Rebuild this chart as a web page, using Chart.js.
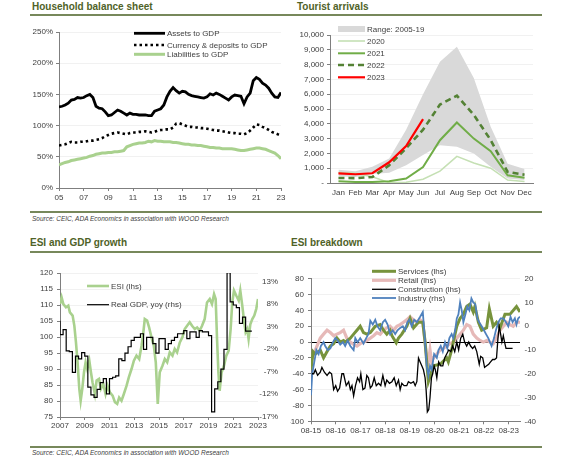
<!DOCTYPE html>
<html>
<head>
<meta charset="utf-8">
<script src="https://cdn.jsdelivr.net/npm/chart.js@4.4.0/dist/chart.umd.min.js"></script>
<style>
  html, body { margin: 0; padding: 0; background: #fff; }
  #page { position: relative; width: 580px; height: 460px; overflow: hidden; font-family: "Liberation Sans", Arial, sans-serif; }
  .title { position: absolute; font-weight: bold; font-size: 10px; line-height: 12px; color: #4f6228; white-space: nowrap; }
  .rule { position: absolute; height: 2px; background: #77885b; }
  .source { position: absolute; font-style: italic; font-size: 6.5px; line-height: 8px; color: #404040; white-space: nowrap; }
  canvas { position: absolute; }
</style>
</head>
<body>
<div id="page">
  <div class="title" style="left:32px; top:1px;">Household balance sheet</div>
  <div class="title" style="left:297px; top:1px;">Tourist arrivals</div>
  <div class="rule" style="left:30px; top:14px; width:512px;"></div>
  <div class="rule" style="left:30px; top:211px; width:512px;"></div>
  <div class="source" style="left:32px; top:215px;">Source: CEIC, ADA Economics in association with WOOD Research</div>

  <div class="title" style="left:30px; top:237px;">ESI and GDP growth</div>
  <div class="title" style="left:291px; top:237px;">ESI breakdown</div>
  <div class="rule" style="left:30px; top:251px; width:512px;"></div>
  <div class="rule" style="left:30px; top:446px; width:512px;"></div>
  <div class="source" style="left:32px; top:449px;">Source: CEIC, ADA Economics in association with WOOD Research</div>

  <canvas id="c1" width="290" height="190" style="left:0px; top:20px;"></canvas>
  <canvas id="c2" width="260" height="190" style="left:290px; top:20px;"></canvas>
  <canvas id="c3" width="290" height="180" style="left:0px; top:258px;"></canvas>
  <canvas id="c4" width="260" height="180" style="left:290px; top:258px;"></canvas>
</div>

<script>
// ---- Household balance sheet (% of GDP, quarterly from 2005) ----
const hhStart = 2005;
const assets = [130,131,133,136, 141,142,145,144, 145,148,150,145, 131,128,127,122, 116,117,121,125,
  123,120,117,120, 118,118,117,117, 117,116,116,123, 125,127,133,146, 155,161,156,152, 155,154,150,148,
  147,146,145,144, 146,151,149,152, 150,147,144,141, 146,149,148,147, 135,146,152,172, 177,174,168,165,
  160,152,146,145, 153];
const deposits = [68,69,70,72, 74,73,73,74, 74,75,76,76, 77,78,80,83, 85,87,88,89, 88,87,86,88,
  89,89,90,90, 91,90,89,90, 92,93,93,94, 94,97,103,104, 102,100,98,98, 97,97,96,96, 95,94,93,92,
  92,91,90,89, 88,88,87,87, 86,88,92,97, 102,101,98,96, 93,90,88,86, 84];
const liabilities = [37,39,41,42, 44,45,46,47, 48,49,51,52, 54,55,56,56, 57,57,58,58, 59,60,66,68,
  70,71,72,72, 73,75,74,76, 75,75,74,74, 74,73,73,72, 71,70,70,69, 69,68,68,67, 66,65,65,64,
  64,63,63,63, 63,62,61,60, 60,61,62,63, 64,64,63,62, 60,58,56,52, 47];

// ---- Tourist arrivals ----
const months = ['Jan','Feb','Mar','Apr','May','Jun','Jul','Aug','Sep','Oct','Nov','Dec'];
const rangeHigh = [900, 800, 1100, 1650, 3600, 6000, 8200, 9200, 7100, 3800, 1300, 950];
const rangeLow = [450, 400, 600, 700, 1200, 1900, 2550, 2450, 2000, 1100, 300, 200];
const y2020 = [700, 650, 420, 20, 50, 250, 800, 1800, 1350, 1000, 200, 100];
const y2021 = [110, 70, 70, 120, 300, 1080, 2890, 4090, 3000, 2150, 520, 350];
const y2022 = [340, 330, 400, 1200, 2350, 3600, 5300, 5900, 4600, 2900, 750, 560];
const y2023 = [650, 590, 660, 1400, 2500, 4320];

// ---- ESI (lhs) and real GDP yoy (rhs, quarterly from 2007) ----
const esi = [[2007.0,110.3],[2007.13,112.4],[2007.27,110.3],[2007.48,109.3],[2007.67,109.8],[2007.8,107.7],
  [2008.02,106.7],[2008.16,103.5],[2008.29,98.3],[2008.42,92.1],[2008.56,83.8],[2008.67,80.1],[2008.8,83.8],
  [2008.94,89],[2009.07,92.1],[2009.2,90],[2009.37,92.6],[2009.5,89],[2009.63,85.8],[2009.82,82.2],
  [2009.96,86.4],[2010.15,86.9],[2010.31,83.8],[2010.5,85.3],[2010.68,82.2],[2010.84,84.8],[2011.03,82.7],
  [2011.25,81.7],[2011.44,79.6],[2011.62,79.1],[2011.78,81.1],[2011.97,80.1],[2012.16,82.2],[2012.38,84.8],
  [2012.56,87.4],[2012.78,90],[2012.97,92.6],[2013.18,94.2],[2013.4,93.1],[2013.59,97.3],[2013.72,100.9],
  [2013.85,105.6],[2014.04,105.1],[2014.2,103],[2014.39,99.9],[2014.58,97.3],[2014.74,92.1],[2014.9,79.1],
  [2015.06,89],[2015.28,91],[2015.47,93.1],[2015.66,92.1],[2015.87,95.2],[2016.09,94.2],[2016.27,96.3],
  [2016.46,95.2],[2016.68,98.3],[2016.89,99.9],[2017.08,102.5],[2017.27,103.5],[2017.48,104.6],
  [2017.67,103.5],[2017.89,102.5],[2018.08,103],[2018.29,102],[2018.48,103.5],[2018.69,105.6],
  [2018.88,110.8],[2019.1,111.9],[2019.28,110.3],[2019.45,113.4],[2019.58,111.9],[2019.69,99.4],
  [2019.8,89],[2019.9,83.2],[2020.06,89],[2020.25,91],[2020.44,94.2],[2020.63,95.7],[2020.79,102.5],
  [2020.92,110.8],[2021.06,114.5],[2021.25,112.9],[2021.44,111.4],[2021.57,114.5],[2021.73,109.8],
  [2021.87,105.1],[2022.0,101.5],[2022.13,102.5],[2022.24,99.4],[2022.38,104],[2022.54,105.6],
  [2022.7,106.7],[2022.86,108.8],[2023.0,111.9]];
const gdpStart = 2007;
const gdp = [4.3, 1.2, 2.3, -2.4, -2.6, -7.2, -3.6, -4.2, -2.8, -3.6, -10.5, -12.2, -12.8, -11.0, -9.5, -8.6,
  -12.0, -8.6, -8.3, -8.0, -4.2, -4.6, -2.9, -1.5, -0.1, 0.6, 0.6, 1.4, -2.1, 0.6, 0.6, -0.8, -2.9, 0.3, 0.3,
  -2.1, -0.8, -0.1, 0.6, 1.4, 1.4, 2.1, 0.3, 1.8, 1.8, 0.6, 2.1, 1.8, 1.8, 1.0, -16.0, -10.9, -9.3, -6.5,
  -2.1, 15.0, 8.5, 7.8, 7.2, 3.7, 5.1, 2.0];
const gdpTicks = [-17, -12, -7, -2, 3, 8, 13];

// ---- ESI breakdown: months since 08-15 ----
const services = [[0,-35],[1,-12],[2.1,-15],[3.7,-12],[4.5,-10],[6.1,-20],[7.8,-12],[9.4,-5],[11,-2],[12.6,5],
  [14.2,0],[15.8,2],[16.6,0],[19.1,5],[20.7,10],[22.3,15],[23.9,20],[25.5,12],[27.1,10],[28.8,12],[31.2,20],
  [33.6,22],[35.2,15],[36.8,10],[38.4,15],[39.3,8],[41.4,-1],[42.5,5],[44.1,10],[46.5,20],[48.1,30],[49.8,18],
  [52.2,25],[54.3,25],[55.4,0],[57,-50],[59.5,-30],[62.7,-28],[65.9,-20],[66.7,-25],[68.3,-10],[69.1,0],
  [70.8,20],[72.4,30],[74,35],[75.6,45],[77.2,48],[78.8,38],[79.6,45],[81.3,25],[82.9,15],[85.3,18],
  [86.6,42],[88.5,20],[90.1,25],[91.8,18],[94.2,35],[96.6,35],[99.8,45],[101.5,38]];
const retail = [[0,-25],[1.3,-15],[2.9,-5],[4.5,5],[6.1,10],[7.8,15],[9.4,12],[11,8],[12.6,10],[14.2,12],
  [15.8,15],[17.4,5],[19.1,0],[20.7,-3],[22.3,-5],[23.9,-2],[25.5,0],[27.1,2],[28.8,5],[30.4,8],[32,12],
  [33.6,10],[35.2,15],[36.8,18],[38.4,20],[40.1,15],[41.7,20],[43.3,22],[44.9,25],[46.5,28],[48.1,32],
  [49.8,28],[51.4,25],[53,28],[54.3,25],[55.4,0],[56.2,-20],[57,-25],[57.8,-10],[58.6,-25],[59.5,-20],
  [61.1,-15],[62.7,-10],[64.3,-8],[65.9,-5],[67.5,-2],[69.1,0],[70.8,5],[72.4,10],[74,15],[75.6,22],
  [77.2,20],[78.8,10],[80.5,5],[82.1,2],[83.7,0],[85.3,2],[86.9,0],[88.5,-2],[90.1,5],[91.8,15],[93.4,20],
  [95,25],[96.6,22],[98.2,20],[99.8,25],[101.5,25]];
const construction = [[0.5,-40],[1.3,-40],[2.1,-35],[3.2,-42],[4.5,-38],[5.3,-32],[6.5,-38],[7.8,-42],[9,-38],
  [10,-40],[11,-60],[12,-55],[12.9,-62],[13.9,-58],[15,-40],[15.8,-40],[17.1,-55],[18.3,-50],[19.1,-60],
  [19.9,-55],[20.7,-68],[21.6,-55],[22.6,-45],[23.6,-50],[24.2,-40],[25.2,-60],[26.2,-58],[27.1,-42],
  [27.9,-45],[28.8,-58],[29.7,-55],[30.7,-45],[31.7,-55],[32.8,-52],[33.9,-55],[34.9,-42],[36,-55],
  [36.8,-48],[38.1,-52],[39.3,-50],[40.4,-45],[41.4,-55],[42.5,-48],[43.3,-60],[44.1,-52],[45.2,-55],
  [46.5,-55],[47.3,-50],[48.5,-52],[49.8,-50],[50.6,-55],[51.4,-50],[52.2,-20],[53,-25],[53.8,-30],
  [54.6,-35],[55.4,-45],[55.9,-60],[56.5,-88],[57.2,-85],[57.8,-70],[58.5,-45],[59.1,-40],[59.8,-30],
  [60.4,-35],[61.1,-45],[62,-25],[63,-30],[64,-30],[64.9,-20],[65.9,-15],[66.9,-10],[67.9,-12],[68.8,-5],
  [69.8,-12],[70.8,0],[71.7,-10],[72.7,5],[73.7,10],[74.6,0],[75.6,-5],[76.6,0],[77.5,-5],[78.5,-8],
  [79.5,-5],[80.5,-12],[81.1,-20],[81.7,-28],[82.4,-18],[83.4,-20],[84.3,-32],[85.3,-30],[86.3,-28],
  [87.2,-25],[88.2,-22],[89.2,-22],[90.1,-20],[90.8,5],[91.4,20],[92.1,10],[92.7,0],[93.4,8],[94,0],
  [94.7,-8],[95.8,-8],[96.9,-8],[97.9,-8]];
const industry = [[0,-29],[0.6,-20],[1.6,-15],[2.6,-10],[3.7,-11.7],[4.8,-8.3],[6.1,-6.7],[6.9,-8.3],[8.1,-10],
  [9.4,-9.3],[10.7,-6.7],[11.8,-5],[12.9,-6],[14.2,-7.7],[15.5,-6.7],[16.6,-8.3],[17.8,-6],[19.1,-8.3],
  [20.7,-10],[21.5,-5],[22.6,-6.7],[23.9,-5],[25.5,-7.3],[26.8,-5],[27.9,-3.3],[28.8,2.3],[30,0.7],
  [31.2,2.7],[32.3,0],[33.6,-1.7],[34.9,1.7],[36,2.7],[37.2,0.7],[38.4,-3.3],[39.7,-1.7],[40.9,-3.3],
  [42,-1.7],[43.3,-0.7],[44.6,0],[45.7,-1.7],[46.8,1.7],[47.8,2.7],[48.9,0],[50.1,2.7],[51.4,1.7],[53,4],
  [54.3,6],[55.4,-6.7],[56.2,-16.7],[57,-20.7],[57.8,-16.7],[58.6,-18.3],[59.8,-11.7],[61.1,-13.3],
  [61.9,-10],[63,-8.3],[64,-10.7],[65.1,-6.7],[66.2,-9.3],[67.2,-5],[68.3,-3.3],[69.1,-5],[70,-1.7],
  [70.8,3.3],[71.6,5],[72.4,10],[73.2,6.7],[74,1.7],[75,5],[75.9,8.3],[76.9,6.7],[77.9,11.7],[78.8,10],
  [79.8,9.3],[80.8,3.3],[81.7,1.7],[82.9,0],[84,-1.7],[85,-3.3],[86.1,-5],[86.9,-6.7],[87.7,-8.3],
  [88.9,-5],[89.8,-1.7],[91,1.7],[92.1,3.3],[93.4,3.3],[94.7,1.7],[95.8,0],[96.9,4],[97.9,1.7],[99,3.3],
  [99.8,0.7],[100.6,3.3],[101.5,4]];

Chart.defaults.font.family = '"Liberation Sans", Arial, sans-serif';
Chart.defaults.font.size = 8;
Chart.defaults.color = '#404040';

const AXIS = '#7f7f7f';
const GRID = '#f1f1f1';

function pairs(list) { return list.map(p => ({ x: p[0], y: p[1] })); }
function quarterly(start, values) { return values.map((v, i) => ({ x: start + i * 0.25, y: v })); }

// legend drawn inside the plot, like the original
const insideLegend = {
    id: 'insideLegend',
    afterDraw(chart, args, opts) {
        const ctx = chart.ctx;
        (opts.items || []).forEach(it => {
            ctx.save();
            ctx.strokeStyle = it.color;
            ctx.lineWidth = it.width;
            ctx.lineCap = 'butt';
            ctx.setLineDash(it.dash || []);
            ctx.beginPath();
            ctx.moveTo(opts.x0, it.y);
            ctx.lineTo(opts.x1, it.y);
            ctx.stroke();
            ctx.setLineDash([]);
            ctx.fillStyle = '#404040';
            ctx.font = '8px "Liberation Sans", Arial, sans-serif';
            ctx.textBaseline = 'middle';
            ctx.fillText(it.label, opts.x1 + 2, it.y + 0.5);
            ctx.restore();
        });
    }
};

const base = {
    responsive: false,
    animation: false,
    events: [],
    devicePixelRatio: 1,
    elements: { point: { radius: 0 }, line: { tension: 0 } }
};

// 1. Household balance sheet
new Chart(document.getElementById('c1'), {
    type: 'line',
    data: {
        datasets: [
            { data: quarterly(hhStart, assets), borderColor: '#000000', borderWidth: 2.8 },
            { data: quarterly(hhStart, deposits), borderColor: '#000000', borderWidth: 2.6, borderDash: [2.5, 3] },
            { data: quarterly(hhStart, liabilities), borderColor: '#a9d18e', borderWidth: 3 }
        ]
    },
    options: Object.assign({}, base, {
        layout: { padding: { top: 12, right: 9, left: 0, bottom: 0 } },
        plugins: {
            legend: { display: false }, tooltip: { enabled: false },
            insideLegend: { x0: 134, x1: 165, items: [
                { label: 'Assets to GDP', y: 13.3, color: '#000000', width: 2.8 },
                { label: 'Currency & deposits to GDP', y: 25, color: '#000000', width: 2.6, dash: [2.5, 3] },
                { label: 'Liabilities to GDP', y: 34.3, color: '#a9d18e', width: 3 }
            ] }
        },
        scales: {
            x: {
                type: 'linear', min: 2005, max: 2023,
                afterFit: s => { s.height = 22; },
                grid: { drawOnChartArea: false, tickLength: 3, tickColor: AXIS },
                border: { color: AXIS },
                ticks: { stepSize: 2, padding: 2, callback: v => String(v).slice(2) }
            },
            y: {
                min: 0, max: 250,
                afterFit: s => { s.width = 59; },
                grid: { color: GRID, tickLength: 3, tickColor: AXIS },
                border: { color: AXIS },
                ticks: { stepSize: 50, padding: 3, autoSkip: false, callback: v => v + '%' }
            }
        }
    }),
    plugins: [insideLegend]
});

// 2. Tourist arrivals
new Chart(document.getElementById('c2'), {
    type: 'line',
    data: {
        labels: months,
        datasets: [
            { data: y2023, borderColor: '#ff0000', borderWidth: 2.2 },
            { data: y2022, borderColor: '#548235', borderWidth: 2.6, borderDash: [6, 4] },
            { data: y2021, borderColor: '#70ad47', borderWidth: 2 },
            { data: y2020, borderColor: '#c5e0b4', borderWidth: 1.6 },
            { data: rangeHigh, borderWidth: 0, borderColor: 'rgba(0,0,0,0)', backgroundColor: '#d9d9d9', fill: '+1' },
            { data: rangeLow, borderWidth: 0, borderColor: 'rgba(0,0,0,0)' }
        ]
    },
    options: Object.assign({}, base, {
        layout: { padding: { top: 15, right: 17, left: 0, bottom: 0 } },
        plugins: {
            legend: { display: false }, tooltip: { enabled: false },
            insideLegend: { x0: 48, x1: 75, items: [
                { label: 'Range: 2005-19', y: 9, color: '#d9d9d9', width: 6 },
                { label: '2020', y: 21, color: '#c5e0b4', width: 1.6 },
                { label: '2021', y: 33.3, color: '#70ad47', width: 2 },
                { label: '2022', y: 45, color: '#548235', width: 2.6, dash: [6, 4] },
                { label: '2023', y: 57.3, color: '#ff0000', width: 2.2 }
            ] }
        },
        scales: {
            x: {
                offset: true,
                afterFit: s => { s.height = 27; },
                grid: { drawOnChartArea: false, drawTicks: false },
                border: { color: AXIS },
                ticks: { padding: 5, autoSkip: false, maxRotation: 0 }
            },
            y: {
                min: 0, max: 10000,
                afterFit: s => { s.width = 40; },
                grid: { color: GRID, tickLength: 3, tickColor: AXIS },
                border: { color: AXIS },
                ticks: { stepSize: 1000, padding: 3, autoSkip: false,
                    callback: v => v === 0 ? '-' : v.toLocaleString('en-US') }
            }
        }
    }),
    plugins: [insideLegend]
});

// 3. ESI and GDP growth
const gdpPoints = quarterly(gdpStart, gdp);
gdpPoints.push({ x: gdpStart + gdp.length * 0.25, y: gdp[gdp.length - 1] });

new Chart(document.getElementById('c3'), {
    type: 'line',
    data: {
        datasets: [
            { data: gdpPoints, yAxisID: 'y2', borderColor: '#000000', borderWidth: 1.2, stepped: 'after' },
            { data: pairs(esi), yAxisID: 'y', borderColor: '#a9d18e', borderWidth: 2.6 }
        ]
    },
    options: Object.assign({}, base, {
        layout: { padding: { top: 15, right: 12, left: 0, bottom: 0 } },
        plugins: {
            legend: { display: false }, tooltip: { enabled: false },
            insideLegend: { x0: 87, x1: 109, items: [
                { label: 'ESI (lhs)', y: 28, color: '#a9d18e', width: 2.6 },
                { label: 'Real GDP, yoy (rhs)', y: 46.7, color: '#000000', width: 1.2 }
            ] }
        },
        scales: {
            x: {
                type: 'linear', min: 2007, max: 2023,
                afterFit: s => { s.height = 21; },
                grid: { drawOnChartArea: false, tickLength: 3, tickColor: AXIS },
                border: { color: AXIS },
                ticks: { stepSize: 2, padding: 1, callback: v => String(v) }
            },
            y: {
                position: 'left', min: 75, max: 120,
                afterFit: s => { s.width = 60; },
                grid: { color: GRID, tickLength: 3, tickColor: AXIS },
                border: { color: AXIS },
                ticks: { stepSize: 5, padding: 4, autoSkip: false }
            },
            y2: {
                position: 'right', min: -17.15, max: 14.93,
                afterFit: s => { s.width = 20; },
                afterBuildTicks: s => { s.ticks = gdpTicks.map(v => ({ value: v })); },
                grid: { display: false, drawTicks: false },
                border: { display: false },
                ticks: { crossAlign: 'far', autoSkip: false, callback: v => v + '%' }
            }
        }
    }),
    plugins: [insideLegend]
});

// 4. ESI breakdown
new Chart(document.getElementById('c4'), {
    type: 'line',
    data: {
        datasets: [
            { data: pairs(construction), yAxisID: 'y', borderColor: '#000000', borderWidth: 1.3 },
            { data: pairs(industry), yAxisID: 'y2', borderColor: '#4f81bd', borderWidth: 1.8 },
            { data: pairs(services), yAxisID: 'y', borderColor: '#77933c', borderWidth: 3 },
            { data: pairs(retail), yAxisID: 'y', borderColor: '#e6b9b8', borderWidth: 3.2 }
        ]
    },
    options: Object.assign({}, base, {
        layout: { padding: { top: 20.7, right: 0, left: 0, bottom: 0 } },
        plugins: {
            legend: { display: false }, tooltip: { enabled: false },
            insideLegend: { x0: 82, x1: 106, items: [
                { label: 'Services (lhs)', y: 13.3, color: '#77933c', width: 3 },
                { label: 'Retail (lhs)', y: 22.3, color: '#e6b9b8', width: 3.2 },
                { label: 'Construction (lhs)', y: 31.3, color: '#000000', width: 1.3 },
                { label: 'Industry (rhs)', y: 40, color: '#4f81bd', width: 1.8 }
            ] }
        },
        scales: {
            x: {
                type: 'linear', min: 0, max: 101.5,
                afterFit: s => { s.height = 16.7; },
                afterBuildTicks: s => { s.ticks = [0, 12, 24, 36, 48, 60, 72, 84, 96].map(v => ({ value: v })); },
                grid: { drawOnChartArea: false, tickLength: 3, tickColor: AXIS },
                border: { color: AXIS },
                ticks: { padding: 2, maxRotation: 0, autoSkip: false,
                    callback: v => '08-' + String(15 + v / 12).padStart(2, '0') }
            },
            y: {
                position: 'left', min: -100, max: 80,
                afterFit: s => { s.width = 21; },
                grid: { color: c => (c.tick && c.tick.value === 0) ? '#000000' : GRID, tickLength: 3, tickColor: AXIS },
                border: { color: AXIS },
                ticks: { stepSize: 20, padding: 4, autoSkip: false }
            },
            y2: {
                position: 'right', min: -40, max: 20,
                afterFit: s => { s.width = 30; },
                grid: { display: false, drawTicks: false },
                border: { display: false },
                ticks: { stepSize: 10, padding: 4.5, autoSkip: false }
            }
        }
    }),
    plugins: [insideLegend]
});
</script>
</body>
</html>
